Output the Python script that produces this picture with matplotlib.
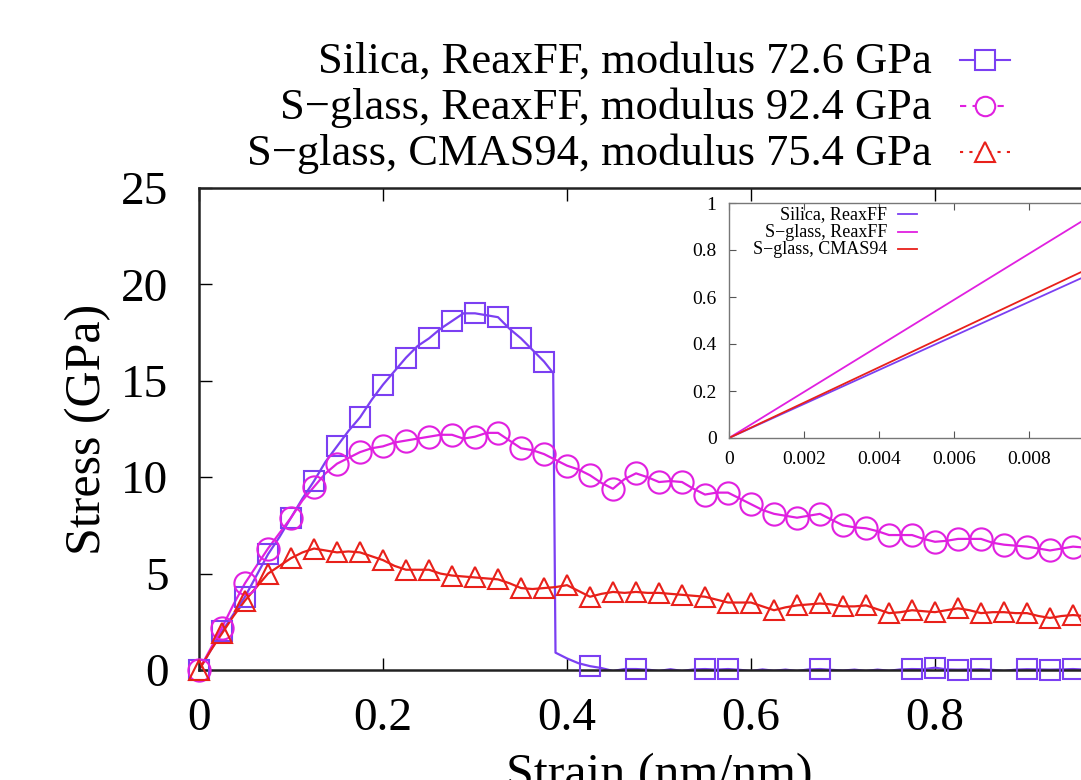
import numpy as np
import matplotlib
matplotlib.use("Agg")
from matplotlib import pyplot as plt
from matplotlib.lines import Line2D

plt.rcParams['font.family'] = ['Liberation Serif', 'DejaVu Serif']

# strain grid (nm/nm), one value every 0.0125
strain = np.round(np.arange(81) * 0.0125, 4)

# Silica, ReaxFF (fracture near 0.385)
silica_stress = [0, 1.0, 2.0, 2.9, 3.8, 4.9, 6.0, 6.9, 7.9, 8.9,
                 9.8, 10.8, 11.6, 12.4, 13.1, 14.0, 14.8, 15.5, 16.2, 16.8,
                 17.2, 17.7, 18.1, 18.5, 18.5, 18.4, 18.3, 17.7, 17.2, 16.6,
                 16.0, 0.9, 0.6, 0.35, 0.2, 0.1, -0.05, 0.05, 0.05, 0.02,
                 -0.05, 0.04, -0.05, 0.03, 0.05, 0.02, 0.05, 0.01, -0.05, 0.03,
                 -0.04, 0.02, -0.05, 0.03, 0.05, 0.01, -0.03, 0.02, -0.05, 0.02,
                 -0.04, 0.03, 0.05, 0.04, 0.12, 0.03, 0.02, 0.03, 0.04, 0.01,
                 -0.05, 0.02, 0.04, 0.03, 0.02, 0.03, 0.05, 0.02, 0.03, 0.02,
                 0.03]
silica_break_strain = 0.385
silica_break_stress = 15.4
# strains where the silica symbols show up
silica_marks = [0, 0.025, 0.05, 0.075, 0.1, 0.125, 0.15, 0.175, 0.2, 0.225,
                0.25, 0.275, 0.3, 0.325, 0.35, 0.375, 0.425, 0.475, 0.55,
                0.575, 0.675, 0.775, 0.8, 0.825, 0.85, 0.9, 0.925, 0.95, 0.975]

# S-glass, ReaxFF
sglass_reax_stress = [0, 1.1, 2.2, 3.4, 4.5, 5.4, 6.3, 7.1, 7.9, 8.8,
                      9.5, 10.2, 10.7, 11.0, 11.3, 11.5, 11.6, 11.8, 11.9, 12.0,
                      12.1, 12.2, 12.2, 12.0, 12.1, 12.3, 12.3, 11.9, 11.5, 11.4,
                      11.2, 10.9, 10.6, 10.4, 10.1, 9.7, 9.4, 9.9, 10.2, 10.0,
                      9.75, 9.8, 9.75, 9.4, 9.1, 9.2, 9.2, 8.9, 8.6, 8.3,
                      8.1, 8.0, 7.9, 8.0, 8.1, 7.8, 7.5, 7.4, 7.35, 7.2,
                      7.0, 7.0, 7.0, 6.8, 6.65, 6.7, 6.8, 6.8, 6.8, 6.6,
                      6.5, 6.45, 6.4, 6.3, 6.2, 6.3, 6.4, 6.35, 6.3, 6.25,
                      6.2]

# S-glass, CMAS94
sglass_cmas_stress = [0, 1.0, 1.9, 2.8, 3.6, 4.3, 5.0, 5.4, 5.8, 6.1,
                      6.3, 6.2, 6.1, 6.15, 6.1, 5.9, 5.7, 5.4, 5.2, 5.2,
                      5.2, 5.0, 4.9, 4.85, 4.8, 4.75, 4.7, 4.5, 4.25, 4.2,
                      4.25, 4.3, 4.4, 4.1, 3.8, 3.95, 4.05, 4.0, 4.05, 4.0,
                      4.0, 3.95, 3.9, 3.85, 3.8, 3.65, 3.5, 3.5, 3.5, 3.3,
                      3.1, 3.25, 3.35, 3.4, 3.45, 3.4, 3.3, 3.3, 3.35, 3.15,
                      2.95, 3.0, 3.1, 3.05, 3.0, 3.1, 3.2, 3.1, 2.95, 3.0,
                      3.0, 2.95, 2.95, 2.8, 2.7, 2.8, 2.85, 2.8, 2.8, 2.75,
                      2.7]

# inset: small-strain linear region
inset_strain = [0.0, 0.01]
inset_silica = [0.0, 0.724]
inset_reax = [0.0, 0.98]
inset_cmas = [0.0, 0.752]

legend_labels = ["Silica, ReaxFF, modulus 72.6 GPa",
                 "S\u2212glass, ReaxFF, modulus 92.4 GPa",
                 "S\u2212glass, CMAS94, modulus 75.4 GPa"]
inset_labels = ["Silica, ReaxFF", "S\u2212glass, ReaxFF", "S\u2212glass, CMAS94"]

c_silica = '#7b3ff2'
c_reax = '#e020e0'
c_cmas = '#e8201a'

W, H = 1081, 780
fig = plt.figure(figsize=(W / 100, H / 100), dpi=100)

def fx(px):
    return px / W

def fy(py):
    return 1 - py / H

ax = fig.add_axes([fx(199), fy(670), 920 / W, 482 / H])
ax.set_xlim(0, 1)
ax.set_ylim(0, 25)

sil_x = np.insert(strain, 31, silica_break_strain)
sil_y = np.insert(np.array(silica_stress), 31, silica_break_stress)
sil_mask = np.isin(np.round(sil_x, 4), np.round(silica_marks, 4))

reax_y = np.array(sglass_reax_stress)
cmas_y = np.array(sglass_cmas_stress)
k = strain / 0.025
every = np.isclose(k, np.round(k))

series = [
    (sil_x, sil_y, sil_mask, c_silica, 's', 14),
    (strain, reax_y, every, c_reax, 'o', 16),
    (strain, cmas_y, every, c_cmas, '^', 15),
]
for x, y, mask, col, mk, ms in series:
    ax.plot(x, y, color=col, lw=1.6, zorder=2)
    ax.plot(x[mask], y[mask].clip(0), ls='none', marker=mk, ms=ms,
            mfc='none', mec=col, mew=1.5, clip_on=False, zorder=3)

ax.set_xticks([0, 0.2, 0.4, 0.6, 0.8, 1.0])
ax.set_xticklabels(['0', '0.2', '0.4', '0.6', '0.8', ''])
ax.set_yticks([0, 5, 10, 15, 20, 25])
ax.tick_params(direction='in', length=9, width=1, top=True, right=True,
               labelsize=34)
ax.tick_params(axis='x', pad=20)
ax.tick_params(axis='y', pad=22)
for sp in ax.spines.values():
    sp.set_linewidth(1.8)
    sp.set_color('#222222')

fig.text(fx(88), fy(429), "Stress (GPa)", rotation=90, ha='center',
         va='center', fontsize=36)
fig.text(fx(659), fy(753), "Strain (nm/nm)", ha='center', va='top',
         fontsize=36)

# top legend, text right aligned with sample to the right
leg_styles = [('-', 's', c_silica), ((0, (3, 3)), 'o', c_reax),
              ((0, (1.5, 3)), '^', c_cmas)]
for i, (lab, (ls, mk, col)) in enumerate(zip(legend_labels, leg_styles)):
    yy = 60 + 46 * i
    fig.text(fx(932), fy(yy + 2), lab, ha='right', va='center', fontsize=32)
    fig.add_artist(Line2D([fx(960), fx(1010)], [fy(yy), fy(yy)],
                          transform=fig.transFigure, color=col, lw=1.5,
                          ls=ls))
    fig.add_artist(Line2D([fx(985)], [fy(yy)], transform=fig.transFigure,
                          ls='none', marker=mk, ms=14, mfc='white',
                          mec=col, mew=1.5))

# inset
ins = fig.add_axes([fx(729), fy(438), 375 / W, 235 / H])
ins.set_facecolor('white')
ins.plot(inset_strain, inset_silica, color=c_silica, lw=1.3)
ins.plot(inset_strain, inset_reax, color=c_reax, lw=1.3)
ins.plot(inset_strain, inset_cmas, color=c_cmas, lw=1.3)
ins.set_xlim(0, 0.01)
ins.set_ylim(0, 1)
ins.set_xticks([0, 0.002, 0.004, 0.006, 0.008, 0.01])
ins.set_xticklabels(['0', '0.002', '0.004', '0.006', '0.008', ''])
ins.set_yticks([0, 0.2, 0.4, 0.6, 0.8, 1])
ins.set_yticklabels(['0', '0.2', '0.4', '0.6', '0.8', '1'])
ins.tick_params(direction='in', length=5, width=0.8, top=True, right=True,
                labelsize=14, colors='#555555', labelcolor='black')
ins.tick_params(axis='x', pad=9)
ins.tick_params(axis='y', pad=9)
for sp in ins.spines.values():
    sp.set_linewidth(1.0)
    sp.set_color('#777777')

for i, (lab, col) in enumerate(zip(inset_labels, [c_silica, c_reax, c_cmas])):
    yy = 214 + 17.5 * i
    fig.text(fx(887), fy(yy + 1), lab, ha='right', va='center', fontsize=13)
    fig.add_artist(Line2D([fx(898), fx(917)], [fy(yy), fy(yy)],
                          transform=fig.transFigure, color=col, lw=1.3))

fig.savefig("out.png", dpi=100)
